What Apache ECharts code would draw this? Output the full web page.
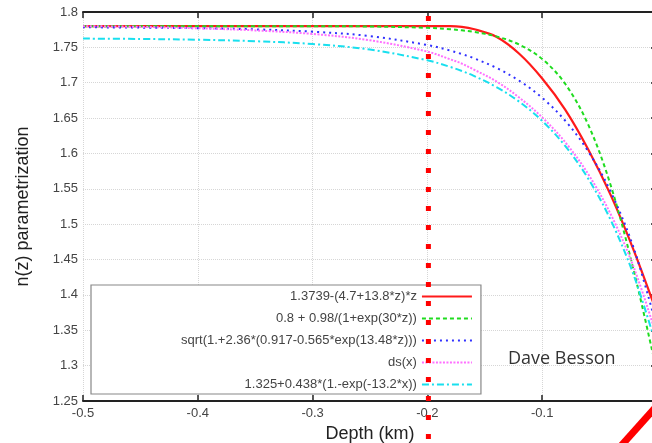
<!DOCTYPE html>
<html>
<head>
<meta charset="utf-8">
<script src="https://cdn.jsdelivr.net/npm/echarts@6/dist/echarts.min.js"></script>
<style>html,body{margin:0;padding:0;background:#fff;}#c{width:652px;height:443px;}</style>
</head>
<body>
<div id="c"></div>
<script>
// Depth (km)
const depth = [-0.5,-0.45,-0.4,-0.35,-0.3,-0.25,-0.2,-0.18,-0.17,-0.16,-0.14,-0.12,-0.1,-0.08,-0.06,-0.04,-0.02,0];
const seriesNames = [
  '1.3739-(4.7+13.8*z)*z',
  '0.8 + 0.98/(1+exp(30*z))',
  'sqrt(1.+2.36*(0.917-0.565*exp(13.48*z)))',
  'ds(x)',
  '1.325+0.438*(1.-exp(-13.2*x))'
];
const redVals     = [1.780,1.780,1.780,1.780,1.780,1.780,1.780,1.780,1.779,1.776,1.765,1.741,1.706,1.662,1.606,1.540,1.462,1.374];
const greenVals   = [1.780,1.780,1.780,1.780,1.780,1.7795,1.7776,1.7756,1.7741,1.7720,1.7655,1.7539,1.7335,1.6985,1.6410,1.5532,1.4327,1.290];
const blueVals    = [1.7784,1.7779,1.7771,1.7755,1.7722,1.7659,1.7533,1.7454,1.7405,1.7349,1.7211,1.7028,1.6786,1.6464,1.6032,1.5448,1.4649,1.3530];
const magentaVals = [1.780,1.779,1.777,1.774,1.769,1.760,1.744,1.733,1.727,1.719,1.702,1.679,1.651,1.616,1.571,1.513,1.438,1.340];
const cyanVals    = [1.7624,1.7619,1.7608,1.7587,1.7547,1.7469,1.7317,1.7223,1.7166,1.7100,1.6940,1.6732,1.6460,1.6106,1.5646,1.5047,1.4266,1.325];
const markDepth = -0.2;
const annotation = 'Dave Besson';

const valueSets = [redVals, greenVals, blueVals, magentaVals, cyanVals];
const colors = ['#ff1a1a', '#1fdc1f', '#3030ff', '#ff70ff', '#19dfee'];
const lineTypes = ['solid', [4,3], [2,4], [2,1.5], [7,3,2,3]];
const widths = [2.2, 2, 2, 2, 2];

const chart = echarts.init(document.getElementById('c'), null, {renderer: 'canvas'});
const font = 'Liberation Sans, Arial, sans-serif';
const tickStyle = {inside: true, length: 6, lineStyle: {color: '#222', width: 1.5}};
const series = valueSets.map((vals, i) => ({
  name: seriesNames[i],
  type: 'line',
  data: depth.map((d, j) => [d, vals[j]]),
  symbol: 'none',
  smooth: 0.35,
  lineStyle: {color: colors[i], width: widths[i], type: lineTypes[i]},
  itemStyle: {color: colors[i]},
  animation: false,
  z: 3
}));

chart.setOption({
  animation: false,
  grid: {left: 83, top: 12, width: 574, height: 389, containLabel: false, outerBoundsMode: 'none'},
  legend: {
    orient: 'vertical', left: 91, top: 285, align: 'right',
    itemWidth: 50, itemHeight: 14, itemGap: 9,
    padding: [5, 8, 3, 90],
    backgroundColor: '#fff', borderColor: '#888', borderWidth: 1.2,
    itemStyle: {opacity: 0},
    textStyle: {fontSize: 13, color: '#444', fontFamily: font},
    data: seriesNames,
    z: 10
  },
  xAxis: [{
    type: 'value', min: -0.5, max: 0, interval: 0.1, position: 'bottom',
    axisLine: {lineStyle: {color: '#222', width: 2}},
    axisTick: tickStyle,
    axisLabel: {color: '#444', fontSize: 13, margin: 6, fontFamily: font, showMaxLabel: false},
    splitLine: {show: true, lineStyle: {color: '#d6d6d6', type: 'dotted'}},
    name: 'Depth (km)', nameLocation: 'middle', nameGap: 22,
    nameTextStyle: {fontSize: 18, color: '#222', fontFamily: font}
  }, {
    type: 'value', min: -0.5, max: 0, interval: 0.1, position: 'top',
    axisLine: {show: true, lineStyle: {color: '#222', width: 2}},
    axisTick: tickStyle, axisLabel: {show: false}, splitLine: {show: false}
  }],
  yAxis: [{
    type: 'value', min: 1.25, max: 1.8, interval: 0.05, position: 'left',
    axisLine: {show: true, lineStyle: {color: '#222', width: 2}},
    axisTick: tickStyle,
    axisLabel: {color: '#444', fontSize: 13, margin: 5, fontFamily: font},
    splitLine: {show: true, lineStyle: {color: '#d6d6d6', type: 'dotted'}},
    name: 'n(z) parametrization', nameLocation: 'middle', nameGap: 51,
    nameTextStyle: {fontSize: 18, color: '#222', fontFamily: font}
  }, {
    type: 'value', min: 1.25, max: 1.8, interval: 0.05, position: 'right',
    axisLine: {show: true, lineStyle: {color: '#222', width: 2}},
    axisTick: tickStyle, axisLabel: {show: false}, splitLine: {show: false}
  }],
  series: series
});

const px = chart.convertToPixel({xAxisIndex: 0}, markDepth);
chart.setOption({
  graphic: [
    {type: 'line', z: 100, shape: {x1: px + 1, y1: 16, x2: px + 1, y2: 443},
     style: {stroke: '#ff0000', lineWidth: 5, lineDash: [5, 14]}},
    {type: 'line', z: 100, shape: {x1: 620, y1: 447, x2: 655, y2: 408},
     style: {stroke: '#ff0000', lineWidth: 7}},
    {type: 'text', z: 100, left: 508, top: 350,
     style: {text: annotation, fontSize: 18, fill: '#333', fontFamily: 'Open Sans, Lato, sans-serif'}}
  ]
});
</script>
</body>
</html>
